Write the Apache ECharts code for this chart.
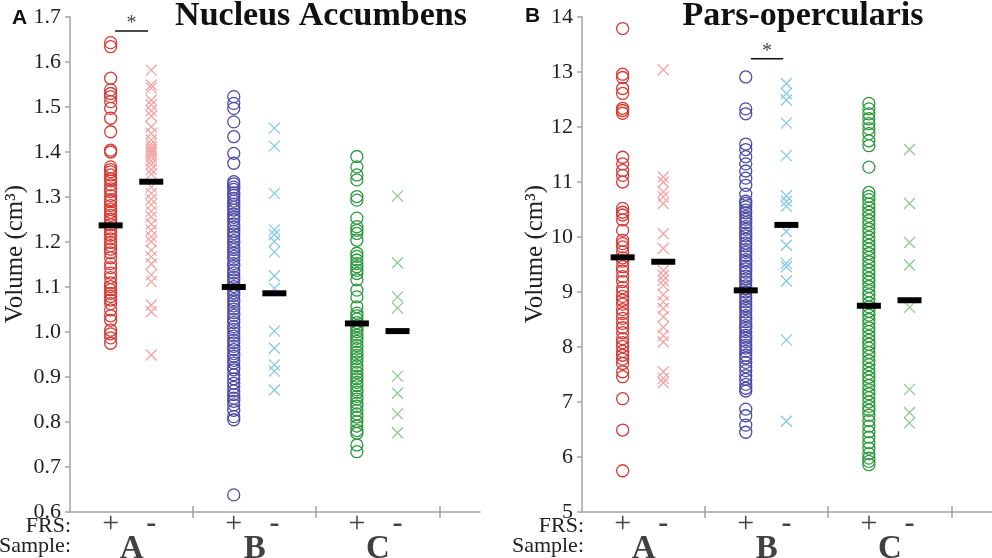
<!DOCTYPE html>
<html>
<head>
<meta charset="utf-8">
<script src="https://cdn.jsdelivr.net/npm/echarts@6/dist/echarts.min.js"></script>
<style>
  html, body { margin: 0; padding: 0; background: #fff; }
  #chart { width: 992px; height: 558px; }
</style>
</head>
<body>
<div id="chart"></div>
<script>
const groups = ['A', 'B', 'C'];
const signs = ['+', '-'];

// Nucleus Accumbens, volume (cm3)
const naAPlus = [1.643,1.634,1.564,1.538,1.530,1.523,1.512,1.497,1.475,1.445,1.404,1.400,1.367,1.361,1.356,1.349,1.341,1.336,1.327,1.318,1.312,1.303,1.294,1.290,1.281,1.273,1.266,1.259,1.251,1.246,1.238,1.229,1.222,1.215,1.207,1.199,1.192,1.184,1.176,1.165,1.152,1.143,1.131,1.121,1.109,1.101,1.094,1.086,1.079,1.071,1.063,1.049,1.036,1.026,1.004,0.996,0.987,0.975];
const naAMinus = [1.582,1.549,1.542,1.515,1.505,1.492,1.480,1.456,1.441,1.427,1.418,1.411,1.405,1.400,1.394,1.388,1.380,1.372,1.361,1.351,1.322,1.308,1.295,1.283,1.268,1.256,1.240,1.226,1.212,1.201,1.182,1.167,1.151,1.127,1.112,1.060,1.045,0.949];
const naBPlus = [1.523,1.508,1.497,1.467,1.434,1.397,1.375,1.334,1.329,1.322,1.317,1.309,1.304,1.297,1.291,1.284,1.277,1.271,1.262,1.255,1.249,1.240,1.233,1.224,1.218,1.211,1.203,1.197,1.189,1.183,1.175,1.168,1.161,1.152,1.146,1.138,1.131,1.122,1.116,1.108,1.101,1.094,1.087,1.081,1.072,1.066,1.058,1.051,1.043,1.037,1.028,1.021,1.012,1.006,0.998,0.991,0.982,0.976,0.968,0.961,0.952,0.946,0.937,0.931,0.921,0.916,0.905,0.896,0.886,0.877,0.869,0.861,0.853,0.846,0.838,0.826,0.812,0.805,0.638];
const naBMinus = [1.453,1.413,1.308,1.227,1.216,1.201,1.178,1.125,1.097,1.002,0.964,0.927,0.913,0.871];
const naCPlus = [1.390,1.367,1.349,1.338,1.301,1.293,1.253,1.234,1.226,1.219,1.204,1.175,1.168,1.160,1.152,1.145,1.137,1.130,1.116,1.093,1.078,1.056,1.042,1.036,1.029,1.021,1.014,1.008,1.001,0.993,0.986,0.979,0.970,0.963,0.955,0.948,0.941,0.933,0.925,0.918,0.910,0.902,0.896,0.888,0.881,0.872,0.866,0.857,0.851,0.842,0.835,0.826,0.818,0.811,0.801,0.791,0.781,0.775,0.749,0.734];
const naCMinus = [1.302,1.154,1.078,1.053,0.902,0.864,0.818,0.776];
const naMedians = [[1.237, 1.334], [1.100, 1.086], [1.019, 1.002]];
const naSig = [0.366, 0.634, 1.669];

// Pars-opercularis, volume (cm3)
const poAPlus = [13.79,12.96,12.90,12.70,12.61,12.34,12.30,12.25,11.45,11.33,11.21,11.12,11.00,10.52,10.45,10.40,10.31,10.12,9.94,9.88,9.82,9.73,9.62,9.56,9.46,9.38,9.28,9.19,9.08,9.01,8.92,8.85,8.78,8.68,8.61,8.52,8.43,8.35,8.26,8.15,8.08,8.01,7.92,7.85,7.78,7.70,7.55,7.46,7.06,6.49,5.75];
const poAMinus = [13.04,11.09,11.00,10.82,10.73,10.61,10.06,9.79,9.39,9.30,9.21,9.12,8.95,8.82,8.70,8.55,8.36,8.21,8.09,7.55,7.43,7.35];
const poBPlus = [12.91,12.33,12.24,11.69,11.59,11.46,11.33,11.20,11.07,10.94,10.78,10.65,10.61,10.55,10.49,10.44,10.37,10.32,10.26,10.19,10.14,10.07,10.02,9.96,9.89,9.84,9.77,9.72,9.66,9.59,9.54,9.47,9.42,9.36,9.29,9.24,9.18,9.11,9.06,9.00,8.93,8.88,8.82,8.75,8.70,8.64,8.57,8.52,8.46,8.39,8.34,8.28,8.21,8.16,8.10,8.03,7.98,7.92,7.85,7.80,7.72,7.64,7.57,7.48,7.41,7.32,7.25,7.20,6.87,6.75,6.58,6.45];
const poBMinus = [12.79,12.61,12.49,12.07,11.48,10.75,10.65,10.56,10.10,9.85,9.52,9.46,9.20,8.13,6.65];
const poCPlus = [12.43,12.33,12.24,12.15,12.06,11.97,11.88,11.75,11.66,11.27,10.81,10.74,10.68,10.60,10.53,10.45,10.38,10.30,10.23,10.15,10.08,10.00,9.93,9.85,9.78,9.70,9.63,9.55,9.48,9.40,9.33,9.25,9.18,9.10,9.02,8.95,8.88,8.80,8.73,8.65,8.58,8.50,8.43,8.35,8.28,8.20,8.12,8.05,7.98,7.90,7.83,7.75,7.68,7.60,7.52,7.45,7.38,7.30,7.22,7.15,7.08,7.00,6.92,6.85,6.76,6.66,6.56,6.46,6.36,6.26,6.16,6.06,5.98,5.92,5.86];
const poCMinus = [11.59,10.61,9.90,9.49,8.72,7.23,6.81,6.62];
const poMedians = [[9.63, 9.55], [9.03, 10.22], [8.75, 8.85]];
const poSig = [1.372, 1.634, 13.24];

const circleColors = ['#d63a35', '#4d4ca6', '#2f9a3f'];
const crossColors = ['#f4a3a3', '#86c9e8', '#8ccb8c'];
const offsets = [0.33, 0.66];
const axisColor = '#a8a29c';
const serif = '"Liberation Serif", "Times New Roman", serif';
const crossPath = 'path://M0,0L10,10M10,0L0,10';

function panelSeries(xi, yi, cols, medians, sig, yMin) {
  const out = [];
  cols.forEach((pair, g) => {
    pair.forEach((vals, s) => {
      const isPlus = s === 0;
      out.push({
        type: 'scatter', xAxisIndex: xi, yAxisIndex: yi, silent: true,
        symbol: isPlus ? 'circle' : crossPath,
        symbolSize: isPlus ? 12 : 11,
        itemStyle: {
          color: 'rgba(0,0,0,0)', opacity: 1,
          borderColor: isPlus ? circleColors[g] : crossColors[g],
          borderWidth: 1.3
        },
        data: vals.map(v => [g + offsets[s], v])
      });
    });
  });
  // median bars
  const med = [];
  medians.forEach((pair, g) => pair.forEach((m, s) => med.push([g + offsets[s], m])));
  out.push({
    type: 'scatter', xAxisIndex: xi, yAxisIndex: yi, silent: true, z: 5,
    symbol: 'rect', symbolSize: [24, 6],
    itemStyle: { color: '#000', opacity: 1 },
    data: med
  });
  // significance bar
  out.push({
    type: 'line', xAxisIndex: xi, yAxisIndex: yi, silent: true, symbol: 'none',
    lineStyle: { color: '#111', width: 1.5 },
    data: [[sig[0], sig[2]], [sig[1], sig[2]]]
  });
  out.push({
    type: 'scatter', xAxisIndex: xi, yAxisIndex: yi, silent: true, symbolSize: 0,
    label: { show: true, formatter: '*', position: 'top', distance: -3,
             fontFamily: serif, fontSize: 20, color: '#111' },
    data: [[(sig[0] + sig[1]) / 2, sig[2]]]
  });
  // FRS signs and sample letters under the axis
  const lab = [];
  groups.forEach((name, g) => {
    signs.forEach((sg, s) => lab.push({
      value: [g + offsets[s], yMin],
      label: { formatter: sg, offset: [0, 12], fontSize: 30,
               fontWeight: s === 0 ? 'normal' : 'bold' }
    }));
    lab.push({
      value: [g + 0.5, yMin],
      label: { formatter: name, offset: [0, 37], fontSize: 33, fontWeight: 'bold' }
    });
  });
  out.push({
    type: 'scatter', xAxisIndex: xi, yAxisIndex: yi, silent: true, symbolSize: 0, clip: false,
    label: { show: true, position: 'inside', fontFamily: serif, color: '#111' },
    data: lab
  });
  return out;
}

function xAxes(gi) {
  const base = {
    gridIndex: gi, type: 'value', position: 'bottom', min: 0, max: 3.33, interval: 1,
    axisLabel: { show: false }, splitLine: { show: false }
  };
  return [
    Object.assign({}, base, {
      axisLine: { lineStyle: { color: axisColor, width: 1.5 } },
      axisTick: { customValues: [1, 2, 3], length: 6, lineStyle: { color: axisColor, width: 1.5 } }
    }),
    Object.assign({}, base, {
      axisLine: { show: false },
      axisTick: { customValues: [1, 2, 3], inside: true, length: 6, lineStyle: { color: axisColor, width: 1.5 } }
    })
  ];
}

function yAxis(gi, min, max, interval, digits) {
  return {
    gridIndex: gi, type: 'value', min: min, max: max, interval: interval,
    axisLine: { show: true, lineStyle: { color: axisColor, width: 1.5 } },
    axisTick: { show: true, length: 5, lineStyle: { color: axisColor, width: 1.5 } },
    axisLabel: { formatter: v => v.toFixed(digits), fontFamily: serif, fontSize: 22, color: '#222', margin: 9 },
    splitLine: { show: false }
  };
}

const option = {
  animation: false,
  grid: [
    { left: 70, top: 17, width: 410, height: 495 },
    { left: 582, top: 17, width: 410, height: 495 }
  ],
  xAxis: xAxes(0).concat(xAxes(1)),
  yAxis: [yAxis(0, 0.6, 1.7, 0.1, 1), yAxis(1, 5, 14, 1, 0)],
  graphic: [
    { type: 'text', left: 12, top: 8, style: { text: 'A', font: 'bold 21px "Liberation Sans"', fill: '#111' } },
    { type: 'text', left: 525, top: 6, style: { text: 'B', font: 'bold 21px "Liberation Sans"', fill: '#111' } },
    { type: 'text', x: 321, y: 16, style: { text: 'Nucleus Accumbens', font: 'bold 34px "Liberation Serif"', fill: '#111', textAlign: 'center', textVerticalAlign: 'middle' } },
    { type: 'text', x: 803, y: 16, style: { text: 'Pars-opercularis', font: 'bold 34px "Liberation Serif"', fill: '#111', textAlign: 'center', textVerticalAlign: 'middle' } },
    { type: 'text', x: 15, y: 254, rotation: Math.PI / 2, style: { text: 'Volume (cm³)', font: '25px "Liberation Serif"', fill: '#222', textAlign: 'center', textVerticalAlign: 'middle' } },
    { type: 'text', x: 535, y: 254, rotation: Math.PI / 2, style: { text: 'Volume (cm³)', font: '25px "Liberation Serif"', fill: '#222', textAlign: 'center', textVerticalAlign: 'middle' } },
    { type: 'text', x: 71, y: 526, style: { text: 'FRS:', font: '22px "Liberation Serif"', fill: '#222', textAlign: 'right', textVerticalAlign: 'middle' } },
    { type: 'text', x: 71, y: 546, style: { text: 'Sample:', font: '22px "Liberation Serif"', fill: '#222', textAlign: 'right', textVerticalAlign: 'middle' } },
    { type: 'text', x: 584, y: 526, style: { text: 'FRS:', font: '22px "Liberation Serif"', fill: '#222', textAlign: 'right', textVerticalAlign: 'middle' } },
    { type: 'text', x: 584, y: 546, style: { text: 'Sample:', font: '22px "Liberation Serif"', fill: '#222', textAlign: 'right', textVerticalAlign: 'middle' } }
  ],
  series: panelSeries(0, 0, [[naAPlus, naAMinus], [naBPlus, naBMinus], [naCPlus, naCMinus]], naMedians, naSig, 0.6)
    .concat(panelSeries(2, 1, [[poAPlus, poAMinus], [poBPlus, poBMinus], [poCPlus, poCMinus]], poMedians, poSig, 5))
};

const chart = echarts.init(document.getElementById('chart'));
chart.setOption(option);
</script>
</body>
</html>
